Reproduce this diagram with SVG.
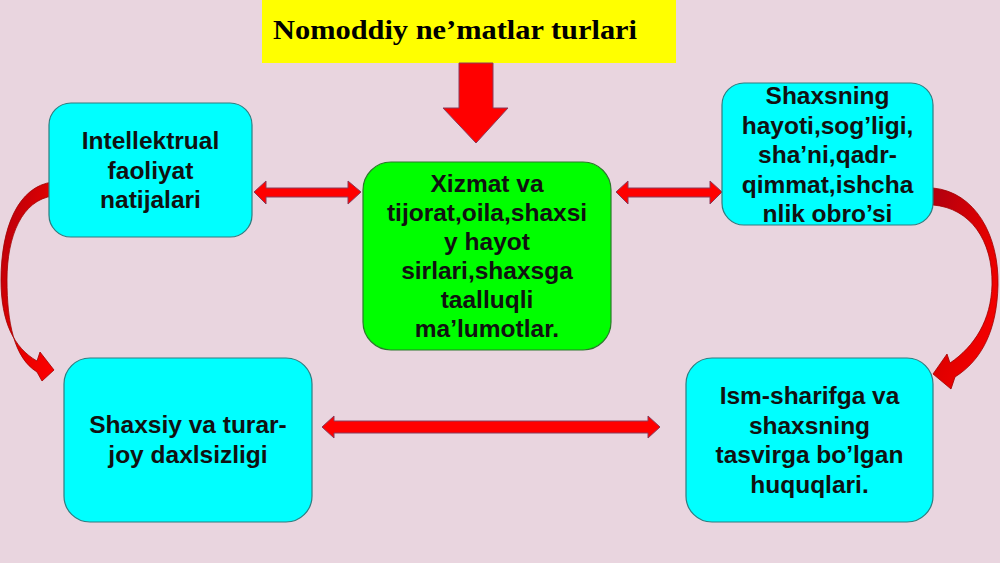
<svg xmlns="http://www.w3.org/2000/svg" width="1000" height="563" viewBox="0 0 1000 563">
<defs>
<style>
.bg{fill:#e9d5df}
.title{fill:#ffff00}
.ttl{font-family:"Liberation Serif","Times New Roman",serif;font-weight:bold;font-size:28px;fill:#000}
.box{fill:#00ffff;stroke:#2e7d80;stroke-width:1.2}
.gbox{fill:#00ff00;stroke:#2a7a2a;stroke-width:1.2}
.lbl{font-family:"Liberation Sans",Arial,sans-serif;font-weight:bold;font-size:24.5px;fill:#111;text-anchor:middle}
.arr{fill:#ff0000;stroke:#8a3a5a;stroke-width:1}
.carr{fill:url(#cg);stroke:#a00000;stroke-width:0.8}
</style>
<linearGradient id="cg" x1="0" y1="0" x2="1" y2="1">
<stop offset="0" stop-color="#b00010"/>
<stop offset="0.5" stop-color="#e00000"/>
<stop offset="1" stop-color="#ff0000"/>
</linearGradient>
</defs>
<rect class="bg" x="0" y="0" width="1000" height="563"/>

<g id="title">
<rect class="title" x="262" y="0" width="414" height="63"/>
<text class="ttl" x="273" y="39" textLength="364" lengthAdjust="spacingAndGlyphs">Nomoddiy ne’matlar turlari</text>
</g>

<g id="connectors">
<polygon class="arr" points="459,63 493,63 493,108 508,108 476,143 443,108 459,108"/>
<polygon class="arr" points="254,192 266,181 266,188 348,188 348,181 361,192 348,204 348,197 266,197 266,204"/>
<polygon class="arr" points="616,192 628,181 628,188 710,188 710,181 722,192 710,204 710,197 628,197 628,204"/>
<polygon class="arr" points="322,427 334,416 334,421 648,421 648,416 660,427 648,438 648,433 334,433 334,438"/>
<path class="carr" d="M53,182 C18,186 1,228 1,280 C1,322 14,348 37,361 L40,352 L54,370 L42,381 L37,372 C14,358 7,322 7,280 C7,236 22,200 53,196 Z"/>
<path class="carr" d="M933,188 C975,192 999,235 998,285 C997,330 982,360 955,377 L951,389 L933,374 L947,354 L950,363 C975,346 991,320 992,285 C993,240 970,208 933,205 Z"/>
</g>

<g id="node-intellektual">
<rect class="box" x="49" y="103" width="203" height="134" rx="22"/>
<text class="lbl" x="150.5" y="149">Intellektrual</text>
<text class="lbl" x="150.5" y="178.5">faoliyat</text>
<text class="lbl" x="150.5" y="208">natijalari</text>
</g>

<g id="node-xizmat">
<rect class="gbox" x="363" y="162" width="248" height="188" rx="28"/>
<text class="lbl" x="487" y="192">Xizmat va</text>
<text class="lbl" x="487" y="221">tijorat,oila,shaxsi</text>
<text class="lbl" x="487" y="250">y hayot</text>
<text class="lbl" x="487" y="279">sirlari,shaxsga</text>
<text class="lbl" x="487" y="308">taalluqli</text>
<text class="lbl" x="487" y="337">ma’lumotlar.</text>
</g>

<g id="node-shaxsning">
<rect class="box" x="722" y="83" width="211" height="142" rx="22"/>
<text class="lbl" x="827.5" y="104">Shaxsning</text>
<text class="lbl" x="827.5" y="133.5">hayoti,sog’ligi,</text>
<text class="lbl" x="827.5" y="163">sha’ni,qadr-</text>
<text class="lbl" x="827.5" y="192.5">qimmat,ishcha</text>
<text class="lbl" x="827.5" y="222">nlik obro’si</text>
</g>

<g id="node-shaxsiy">
<rect class="box" x="64" y="358" width="248" height="164" rx="26"/>
<text class="lbl" x="188" y="433">Shaxsiy va turar-</text>
<text class="lbl" x="188" y="463">joy daxlsizligi</text>
</g>

<g id="node-ism">
<rect class="box" x="686" y="358" width="247" height="164" rx="26"/>
<text class="lbl" x="809.5" y="404">Ism-sharifga va</text>
<text class="lbl" x="809.5" y="433.5">shaxsning</text>
<text class="lbl" x="809.5" y="463">tasvirga bo’lgan</text>
<text class="lbl" x="809.5" y="492.5">huquqlari.</text>
</g>
</svg>
